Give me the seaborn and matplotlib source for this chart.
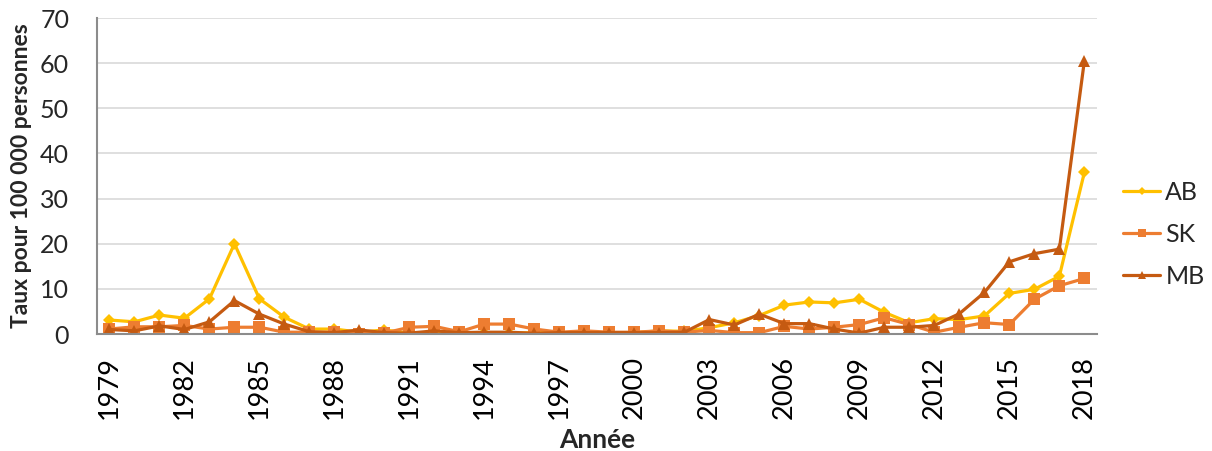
import matplotlib
matplotlib.use("Agg")
import matplotlib.pyplot as plt
import numpy as np
import pandas as pd
import seaborn as sns

years = list(range(1979, 2019))

ab = [3.1, 2.7, 4.2, 3.5, 7.8, 20.0, 7.8, 3.7, 1.1, 1.1,
      0.4, 0.9, 0.2, 0.3, 0.2, 0.2, 0.2, 0.3, 0.3, 0.3,
      0.3, 0.3, 0.7, 0.6, 1.4, 2.5, 4.1, 6.4, 7.1, 6.9,
      7.7, 4.8, 2.5, 3.4, 3.2, 4.0, 9.0, 9.9, 12.8, 35.8]

sk = [1.1, 1.6, 1.6, 1.9, 1.1, 1.5, 1.5, 0.4, 0.4, 0.4,
      0.1, 0.2, 1.5, 1.7, 0.5, 2.2, 2.2, 1.1, 0.4, 0.7,
      0.4, 0.4, 0.7, 0.4, 0.8, 0.3, 0.3, 1.7, 1.1, 1.5,
      2.1, 3.6, 2.1, 0.4, 1.5, 2.5, 2.1, 7.7, 10.7, 12.3]

mb = [1.0, 0.7, 1.8, 1.0, 2.7, 7.4, 4.4, 2.2, 0.5, 0.3,
      0.9, 0.3, 0.2, 0.7, 0.3, 0.4, 0.4, 0.15, 0.3, 0.3,
      0.3, 0.3, 0.3, 0.4, 3.2, 2.0, 4.4, 2.3, 2.3, 1.1,
      0.2, 1.5, 1.5, 1.9, 4.5, 9.2, 16.0, 17.8, 18.8, 60.5]

provinces = ["AB", "SK", "MB"]
colors = {"AB": "#FFC000", "SK": "#ED7D31", "MB": "#C55A11"}
markers = {"AB": "D", "SK": "s", "MB": "^"}
sizes = {"AB": 6, "SK": 8, "MB": 8}

df = pd.DataFrame({"Année": years, "AB": ab, "SK": sk, "MB": mb})
long_df = df.melt(id_vars="Année", var_name="prov", value_name="taux")

sns.set_style("white")
plt.rcParams["font.family"] = ["Lato", "DejaVu Sans"]

fig = plt.figure(figsize=(12.12, 4.51), dpi=100)
ax = fig.add_axes([0.080, 0.2594, 0.825, 0.7006])

for p in provinces:
    sns.lineplot(data=long_df[long_df["prov"] == p], x="Année", y="taux",
                 color=colors[p], marker=markers[p], markersize=sizes[p],
                 markeredgewidth=0, linewidth=2.3, label=p, ax=ax)

ax.set_xlim(1978.5, 2018.5)
ax.set_ylim(0, 70)
ax.set_yticks(range(0, 71, 10))
ax.yaxis.grid(True, color="#D9D9D9", linewidth=1.2)
ax.set_axisbelow(True)

ax.set_xticks(years[::3])
ax.set_xticks(np.arange(1978.5, 2019, 1), minor=True)
ax.tick_params(axis="x", which="major", length=0, labelsize=19.5,
               labelrotation=90, pad=16, colors="#000000")
ax.tick_params(axis="x", which="minor", length=8, width=1, color="#404040",
               direction="out")
ax.tick_params(axis="y", length=0, labelsize=18, pad=20)

for side in ["top", "right"]:
    ax.spines[side].set_visible(False)
ax.spines["left"].set_color("#8C8C8C")
ax.spines["left"].set_linewidth(1.5)
ax.spines["bottom"].set_color("#8C8C8C")
ax.spines["bottom"].set_linewidth(1.5)

ax.set_xlabel("Année", fontsize=19, fontweight="bold", labelpad=6)
ax.set_ylabel("Taux pour 100 000 personnes", fontsize=16.5, fontweight="bold",
              labelpad=6)

ax.legend(loc="center left", bbox_to_anchor=(1.026, 0.315), frameon=False,
          fontsize=18, handlelength=1.5, handletextpad=0.2, labelspacing=0.75,
          borderaxespad=0, borderpad=0, markerscale=0.75)

fig.savefig("out.png", dpi=100)
